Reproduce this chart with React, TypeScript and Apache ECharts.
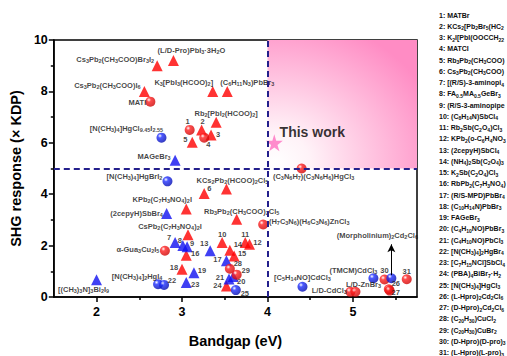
import React, { useEffect, useRef } from 'react';
import * as echarts from 'echarts';

const FONT = 'Liberation Sans, Arial, sans-serif';
const X_MIN = 1.5;
const X_MAX = 5.75;
const Y_MIN = 0;
const Y_MAX = 10;
const Y_INTERVAL = 2;
const GAP_THRESHOLD = 4;
const SHG_THRESHOLD = 5;
const xTicks = [2, 3, 4, 5];
const xMinorTicks = [2.5, 3.5, 4.5, 5.5];

// [bandgap (eV), SHG (x KDP), label]
const redTriangles: [number, number, string][] = [
  [2.71, 9.0, 'Cs3Pb2(CH3COO)Br3I2'],
  [2.9, 9.2, '(L/D-Pro)PbI3·3H2O'],
  [2.56, 8.0, 'Cs3Pb2(CH3COO)I6'],
  [3.36, 8.0, 'K3[PbI3(HCOO)2]'],
  [3.53, 8.0, '(C6H11N3)PbBr3'],
  [3.4, 6.8, 'Rb2[PbI2(HCOO)2]'],
  [3.23, 6.5, '2'],
  [3.34, 6.3, '3'],
  [3.12, 6.02, '5'],
  [3.26, 4.03, '6'],
  [3.52, 4.2, 'KCs2Pb2(HCOO)2Cl5'],
  [3.05, 3.42, 'KPb2(C7H3NO4)2I'],
  [3.64, 3.03, 'Rb3Pb2(CH3COO)2Cl5'],
  [3.07, 2.42, 'CsPb2(C7H3NO4)2I'],
  [3.47, 2.12, '10'],
  [3.74, 2.12, '11'],
  [3.79, 2.05, '12'],
  [3.56, 1.82, '14'],
  [3.61, 1.6, '15'],
  [3.05, 1.62, '16'],
  [3.0, 1.08, '18'],
  [3.52, 0.43, '24'],
];
// label centre offset from the mark, in pixels
const redTrianglePlace: [number, number][] = [
  [-42, -6], [18, -10], [-37, -6], [-29, -9],
  [20, -9], [10, -9], [1, -8], [7, -1],
  [-7, -3], [5, -5], [6, -9], [-24, -10],
  [5, -8], [-18, -8], [0, -8], [0, -8],
  [8, -2], [8, -6], [8, -2], [9, -2],
  [-8, -2], [-9, 0],
];

const redCircles: [number, number, string][] = [
  [2.63, 7.6, 'MATI'],
  [3.09, 6.5, '1'],
  [3.26, 6.2, '4'],
  [2.8, 1.8, 'α-Gua3Cu2I5'],
  [4.4, 5.0, '(C3N6H7)(C3N6H6)HgCl3'],
  [3.95, 2.82, '(H7C3N6)(H6C3N6)ZnCl3'],
  [3.56, 1.1, '28'],
  [3.64, 0.87, '29'],
  [4.97, 0.2, 'L/D-CdCl3'],
  [5.03, 0.2, 'L/D-ZnBr3'],
  [5.37, 0.68, '30'],
  [5.63, 0.69, '31'],
  [5.42, 0.3, '26'],
  [5.43, 0.25, '27'],
];
const redCirclePlace: [number, number][] = [
  [-13, 1], [-2, -8], [4, 7], [-27, -1],
  [12, 8], [46, -3], [8, -5], [9, -4],
  [-21, -1], [8, -7], [0, -9], [0, -8],
  [7, -6], [6, 2],
];

const blueCircles: [number, number, string][] = [
  [2.76, 6.2, '[N(CH3)4]HgCl9.45I2.55'],
  [2.83, 4.5, '[N(CH3)4]HgBrI2'],
  [2.72, 0.5, '[N(CH3)4]2HgI4'],
  [2.79, 0.47, '22'],
  [3.63, 0.27, '25'],
  [4.41, 0.4, '[C5H14NO]CdCl3'],
  [5.24, 0.73, '(TMCM)CdCl3'],
  [5.45, 0.73, '(Morpholinium)2Cd2Cl6'],
];
const blueCirclePlace: [number, number][] = [
  [-35, -9], [-33, -5], [-21, -8], [8, -4],
  [9, 3], [0, -9], [-20, -8], [-14, -43],
];

const blueTriangles: [number, number, string][] = [
  [2.92, 5.32, 'MAGeBr3'],
  [2.82, 3.25, '(2cepyH)SbBr4'],
  [2.92, 2.12, '7'],
  [3.01, 2.0, '8'],
  [3.06, 1.96, '9'],
  [3.33, 1.8, '13'],
  [3.52, 1.41, '17'],
  [3.14, 0.94, '19'],
  [3.55, 0.7, '21'],
  [3.6, 0.8, '20'],
  [3.05, 0.56, '23'],
  [2.0, 0.67, '[(CH3)3N]3Bi2I9'],
];
const blueTrianglePlace: [number, number][] = [
  [-21, -4], [-30, 0], [-6, -5], [-3, -5],
  [5, -3], [-6, -7], [-9, -1], [8, -2],
  [-9, -2], [8, 5], [9, 2], [-13, 10],
];

const thisWork: [number, number, string][] = [[4.08, 6.0, 'This work']];
const morpholiniumArrow: [number, number][] = [[5.45, 0.85], [5.45, 2.05]];

const legendEntries = [
  'MATBr', 'KCs2[Pb2Br5(HCOO)2]', 'K2I[PbI(OOCCH2CH2COO)]', 'MATCI',
  'Rb3Pb2(CH3COO)2Br5', 'Cs3Pb2(CH3COO)2Br5', '[(R/S)-3-aminopiperidine]PbBr4',
  'FA0.5MA0.5GeBr3', '(R/S-3-aminopiperidine)PbCl4', '(C8H14N)SbCl4',
  'Rb2Sb(C2O4)Cl3', 'KPb2(o-C6H4NO3)2I', '(2cepyH)SbCl4', '(NH4)2Sb(C2O4)Cl3',
  'K2Sb(C2O4)Cl3', 'RbPb2(C7H3NO4)2I', '(R/S-MPD)PbBr4', '(C10H14N)PbBr3',
  'FAGeBr3', '(C4H10NO)PbBr3', '(C4H10NO)PbCl3', '[N(CH3)4]2HgBr4',
  '[C7H15NCl]SbCl4', '(PBA)4BiBr7·H2O', '[N(CH3)4]HgCl3', '(L-Hpro)2Cd2Cl6',
  '(D-Hpro)2Cd2Cl6', '(C20H30)CuCl2', '(C20H30)CuBr2', '(D-Hpro)(D-pro)CdCl3',
  '(L-Hpro)(L-pro)CdCl3',
];

// chemical formula -> ECharts rich text with subscripts
function chem(s: string): string {
  return s.replace(/([A-Za-z\)\]])(\d+(?:\.\d+)?)/g, (_m, p, d) => `${p}{s|${d}}`);
}

const subStyle = (size: number) => ({
  fontSize: size,
  lineHeight: 3,
  verticalAlign: 'bottom',
  fontWeight: 'bold',
  fontFamily: FONT,
  color: '#111',
});

function items(points: [number, number, string][], places: [number, number][]) {
  return points.map(([x, y, name], i) => {
    const [dx, dy] = places[i];
    return {
      value: [x, y],
      name,
      label: {
        show: true,
        position: ['50%', '50%'],
        offset: [dx, dy],
        align: 'center',
        verticalAlign: 'middle',
      },
    };
  });
}

const sphere = (mid: string, dark: string) => ({
  type: 'radial',
  x: 0.35,
  y: 0.32,
  r: 0.75,
  colorStops: [
    { offset: 0, color: '#ffffff' },
    { offset: 0.28, color: mid },
    { offset: 1, color: dark },
  ],
});

const labelStyle = {
  formatter: (p: any) => chem(p.name),
  color: '#111',
  fontSize: 7.5,
  lineHeight: 9,
  fontWeight: 'bold',
  fontFamily: FONT,
  rich: { s: subStyle(5.5) },
};

const STAR =
  'path://M50,0 L61,35 L98,35 L68,57 L79,91 L50,70 L21,91 L32,57 L2,35 L39,35 Z';

export default function App() {
  const ref = useRef<HTMLDivElement>(null);
  useEffect(() => {
    if (!ref.current) return;
    const chart = echarts.init(ref.current, null, { renderer: 'svg' });
    const dashStyle = { type: [6, 4], color: '#24208c', width: 2 };
    chart.setOption({
      animation: false,
      grid: {
        left: 50,
        right: 90,
        top: 40,
        bottom: 59,
        show: true,
        borderColor: '#000',
        borderWidth: 1.5,
        backgroundColor: 'transparent',
      },
      xAxis: [
        {
          type: 'value',
          min: X_MIN,
          max: X_MAX,
          name: 'Bandgap (eV)',
          nameLocation: 'middle',
          nameGap: 36,
          nameTextStyle: { fontSize: 14.5, fontWeight: 'bold', color: '#000', fontFamily: FONT },
          axisLine: { lineStyle: { color: '#000', width: 1.5 } },
          axisTick: { customValues: xTicks, length: 5, lineStyle: { color: '#000', width: 1.5 } },
          axisLabel: {
            customValues: xTicks,
            margin: 8,
            fontSize: 12.5,
            fontWeight: 'bold',
            color: '#000',
            fontFamily: FONT,
          },
          splitLine: { show: false },
        },
        {
          type: 'value',
          min: X_MIN,
          max: X_MAX,
          position: 'bottom',
          axisLine: { show: false },
          axisTick: { customValues: xMinorTicks, length: 3, lineStyle: { color: '#000', width: 1.5 } },
          axisLabel: { show: false },
          splitLine: { show: false },
        },
      ],
      yAxis: {
        type: 'value',
        min: Y_MIN,
        max: Y_MAX,
        interval: Y_INTERVAL,
        name: 'SHG response (× KDP)',
        nameLocation: 'middle',
        nameGap: 24,
        nameTextStyle: { fontSize: 14.5, fontWeight: 'bold', color: '#000', fontFamily: FONT },
        axisLine: { show: true, lineStyle: { color: '#000', width: 1.5 } },
        axisTick: { show: true, length: 5, lineStyle: { color: '#000', width: 1.5 } },
        minorTick: { show: true, splitNumber: 2, length: 3, lineStyle: { color: '#000', width: 1.5 } },
        axisLabel: { margin: 6, fontSize: 12.5, fontWeight: 'bold', color: '#000', fontFamily: FONT },
        splitLine: { show: false },
      },
      graphic: legendEntries.map((t, i) => ({
        type: 'text',
        x: 439,
        y: 15 + i * 11.25,
        silent: true,
        style: {
          text: `${i + 1}: ${chem(t)}`,
          fill: '#111',
          fontSize: 7,
          lineHeight: 9,
          fontWeight: 'bold',
          fontFamily: FONT,
          verticalAlign: 'middle',
          width: 67,
          overflow: 'truncate',
          ellipsis: '',
          rich: { s: subStyle(5) },
        },
      })),
      series: [
        {
          type: 'scatter',
          data: [],
          z: 1,
          silent: true,
          markArea: {
            silent: true,
            itemStyle: {
              color: {
                type: 'radial',
                x: 0.05,
                y: 0.95,
                r: 1.15,
                colorStops: [
                  { offset: 0, color: '#ffffff' },
                  { offset: 0.2, color: '#fff3f8' },
                  { offset: 1, color: '#ff8cc4' },
                ],
              },
            },
            data: [[{ xAxis: GAP_THRESHOLD, yAxis: SHG_THRESHOLD }, { xAxis: X_MAX, yAxis: Y_MAX }]],
          },
        },
        {
          type: 'scatter',
          data: [],
          z: 2,
          silent: true,
          markLine: {
            silent: true,
            symbol: 'none',
            label: { show: false },
            lineStyle: dashStyle,
            data: [
              { yAxis: SHG_THRESHOLD },
              { xAxis: GAP_THRESHOLD },
              [
                { coord: morpholiniumArrow[0], symbol: 'none', lineStyle: { type: 'solid', color: '#000', width: 1 } },
                { coord: morpholiniumArrow[1], symbol: 'arrow', symbolSize: [6, 8] },
              ],
            ],
          },
        },
        {
          type: 'scatter',
          z: 3,
          silent: true,
          symbol: 'triangle',
          symbolSize: 11,
          itemStyle: { color: '#ff0000' },
          label: labelStyle,
          data: items(redTriangles, redTrianglePlace),
        },
        {
          type: 'scatter',
          z: 3,
          silent: true,
          symbol: 'triangle',
          symbolSize: 11,
          itemStyle: { color: '#1010f0' },
          label: labelStyle,
          data: items(blueTriangles, blueTrianglePlace),
        },
        {
          type: 'scatter',
          z: 3,
          silent: true,
          symbol: 'circle',
          symbolSize: 10,
          itemStyle: { color: sphere('#ff2020', '#c80000') },
          label: labelStyle,
          data: items(redCircles, redCirclePlace),
        },
        {
          type: 'scatter',
          z: 3,
          silent: true,
          symbol: 'circle',
          symbolSize: 10,
          itemStyle: { color: sphere('#2030ff', '#0008a8') },
          label: labelStyle,
          data: items(blueCircles, blueCirclePlace),
        },
        {
          type: 'scatter',
          z: 4,
          silent: true,
          symbol: STAR,
          symbolSize: 17,
          itemStyle: { color: '#ff6fc0' },
          label: {
            ...labelStyle,
            fontSize: 14,
            lineHeight: 16,
            color: '#000',
          },
          data: items(thisWork, [[38, -11]]),
        },
      ],
    });
    return () => chart.dispose();
  }, []);
  return (
    <div
      ref={ref}
      style={{ position: 'fixed', left: 0, top: 0, width: 507, height: 356, background: '#fff' }}
    />
  );
}
